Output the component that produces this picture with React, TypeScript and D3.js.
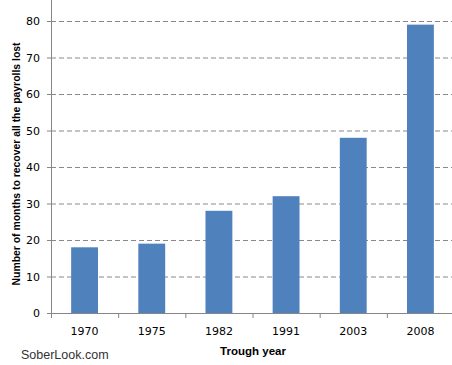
import React from "react";
import { scaleBand, scaleLinear } from "d3";

const years = ["1970", "1975", "1982", "1991", "2003", "2008"];
const months = [18, 19, 28, 32, 48, 79];
const yTicks = [0, 10, 20, 30, 40, 50, 60, 70, 80];

const W = 452;
const H = 365;
const left = 51;
const right = 454;
const top = 21;
const bottom = 313;

const App = () => {
  const x = scaleBand().domain(years).range([left, right]).paddingInner(0.6).paddingOuter(0.3);
  const xTick = scaleBand().domain(years).range([left, right]);
  const y = scaleLinear().domain([0, 80]).range([bottom, top]);
  const font = "Tahoma, 'DejaVu Sans', sans-serif";
  const titleFont = "'Liberation Sans', Arial, sans-serif";

  return (
    <svg width={W} height={H} style={{ position: "absolute", left: 0, top: 0 }} fontFamily={font}>
      <rect width={W} height={H} fill="#fff" />
      {/* gridlines */}
      {yTicks.filter(t => t > 0).map(t => (
        <line key={t} x1={left} x2={W} y1={y(t) + 0.5} y2={y(t) + 0.5}
          stroke="#888" strokeDasharray="5,3" />
      ))}
      {/* bars */}
      {years.map((yr, i) => (
        <rect key={yr} x={x(yr)} y={y(months[i])} width={x.bandwidth()}
          height={bottom - y(months[i])} fill="#4f81bd" />
      ))}
      {/* y axis */}
      <line x1={left + 0.5} x2={left + 0.5} y1={0} y2={bottom} stroke="#868686" />
      {yTicks.map(t => (
        <g key={t}>
          <line x1={left - 4} x2={left} y1={y(t) + 0.5} y2={y(t) + 0.5} stroke="#868686" />
          <text x={40} y={y(t) + 4} textAnchor="end" fontSize={11} fill="#000">{t}</text>
        </g>
      ))}
      {/* x axis */}
      <line x1={left} x2={W} y1={bottom + 0.5} y2={bottom + 0.5} stroke="#868686" />
      {years.map(yr => (
        <g key={yr}>
          <line x1={(xTick(yr) as number) + 0.5} x2={(xTick(yr) as number) + 0.5}
            y1={bottom} y2={bottom + 5} stroke="#868686" />
          <text x={(xTick(yr) as number) + xTick.bandwidth() / 2} y={335}
            textAnchor="middle" fontSize={11} fill="#000">{yr}</text>
        </g>
      ))}
      {/* titles */}
      <text x={253} y={355} textAnchor="middle" fontSize={11.5} fontWeight="bold" fill="#000"
        fontFamily={titleFont}>Trough year</text>
      <text transform="translate(20, 164) rotate(-90)" textAnchor="middle" fontFamily={titleFont}
        fontSize={11} fontWeight="bold" fill="#000" textLength={243}
        lengthAdjust="spacingAndGlyphs">Number of months to recover all the payrolls lost</text>
      <text x={21} y={359} fontSize={12.5} fill="#333" fontFamily={titleFont}>SoberLook.com</text>
    </svg>
  );
};

export default App;
